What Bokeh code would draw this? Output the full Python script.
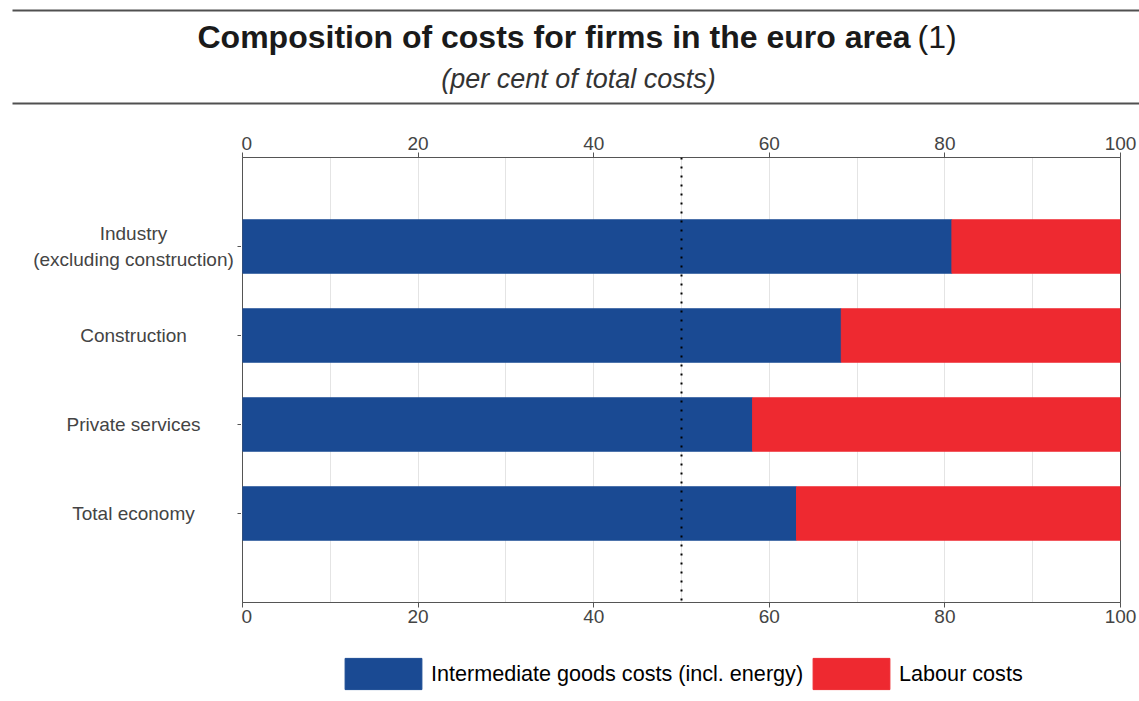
from bokeh.plotting import figure
from bokeh.layouts import column, row
from bokeh.models import (Range1d, FactorRange, LinearAxis, FixedTicker, SingleIntervalTicker,
                          Span, ColumnDataSource, Legend, LegendItem)
from bokeh.core.properties import value
from bokeh.embed import file_html
from bokeh.resources import INLINE

# ---- data ----
categories = ["Industry\n(excluding construction)", "Construction", "Private services", "Total economy"]
intermediate = [80.8, 68.2, 58.1, 63.1]
labour = [19.2, 31.8, 41.9, 36.9]
series_names = ["Intermediate goods costs (incl. energy)", "Labour costs"]
x_ticks = [0, 20, 40, 60, 80, 100]
reference_line = 50
title_text = "Composition of costs for firms in the euro area"
title_note = "(1)"
subtitle_text = "(per cent of total costs)"

FONT = "Liberation Sans"
BLUE = "#1A4A93"
RED = "#EE2930"
SERIES_COLORS = [BLUE, RED]
AXIS = "#555555"
TICKTXT = "#444444"

W = 1139
HEAD_H = 108        # header strip (title, subtitle, rules)
LABEL_W = 241       # strip holding the category labels and their ticks
TOP_B, FRAME_H, BOT_B = 49, 445, 40
LEFT_B, FRAME_W = 1, 878
RIGHT_B = W - LABEL_W - LEFT_B - FRAME_W
FOOT_H = 701 - HEAD_H - (TOP_B + FRAME_H + BOT_B)

source = ColumnDataSource(dict(cat=categories, inter=intermediate, labour=labour))
y_range = FactorRange(factors=categories[::-1], range_padding=0.5,
                      range_padding_units="absolute")


def bare(fig):
    fig.background_fill_color = "white"
    fig.border_fill_color = "white"
    fig.outline_line_color = None
    fig.xgrid.visible = False
    fig.ygrid.visible = False
    return fig


# ---- header: title, subtitle and the two rules ----
head = bare(figure(frame_width=W, frame_height=HEAD_H, x_range=Range1d(0, W),
                   y_range=Range1d(HEAD_H, 0), x_axis_location=None, y_axis_location=None,
                   min_border=0, output_backend="svg", toolbar_location=None))
head.segment(x0=[12, 12], y0=[10, 103], x1=[W, W], y1=[10, 103], line_color="#505050",
             line_width=2)
head.text(x=[197], y=[36], text=[title_text], text_font=value(FONT), text_font_size="32px",
          text_font_style="bold", text_color="#1a1a1a", text_align="left",
          text_baseline="alphabetic")
head.text(x=[917], y=[36], text=[title_note], text_font=value(FONT), text_font_size="32px",
          text_color="#1a1a1a", text_align="left", text_baseline="alphabetic")
head.text(x=[578], y=[78], text=[subtitle_text], text_font=value(FONT), text_font_size="27px",
          text_font_style="italic", text_color="#333333", text_align="center",
          text_baseline="alphabetic")

# ---- category label strip (shares the y range with the chart) ----
labels = bare(figure(frame_width=LABEL_W, frame_height=FRAME_H, x_range=Range1d(0, LABEL_W),
                     y_range=y_range, x_axis_location=None, y_axis_location=None,
                     min_border_left=0, min_border_right=0,
                     min_border_top=TOP_B, min_border_bottom=BOT_B,
                     output_backend="svg", toolbar_location=None))
labels.text(x=133, y="cat", text="cat", source=source, text_align="center",
            text_baseline="middle", text_font=value(FONT), text_font_size="19px",
            text_color=TICKTXT)
# category tick marks on the left edge of the chart
labels.segment(x0=LABEL_W - 4, x1=LABEL_W, y0="cat", y1="cat", source=source,
               line_color=AXIS, line_width=1)

# ---- main chart ----
p = figure(frame_width=FRAME_W, frame_height=FRAME_H,
           x_range=Range1d(0, 100), y_range=y_range,
           x_axis_location=None, y_axis_location=None,
           output_backend="svg", toolbar_location=None,
           min_border_left=LEFT_B, min_border_right=RIGHT_B,
           min_border_top=TOP_B, min_border_bottom=BOT_B)
p.background_fill_color = "white"
p.border_fill_color = "white"
p.outline_line_color = AXIS
p.outline_line_width = 1

renderers = p.hbar_stack(["inter", "labour"], y="cat", height=0.6,
                         color=SERIES_COLORS, source=source)

p.xgrid.ticker = SingleIntervalTicker(interval=10)
p.xgrid.grid_line_color = "#e4e4e4"
p.ygrid.visible = False

bottom_axis = LinearAxis()
top_axis = LinearAxis()
p.add_layout(bottom_axis, "below")
p.add_layout(top_axis, "above")
for ax in [bottom_axis, top_axis]:
    ax.ticker = FixedTicker(ticks=x_ticks)
    ax.axis_line_color = AXIS
    ax.major_tick_line_color = AXIS
    ax.major_tick_out = 5
    ax.major_tick_in = 0
    ax.minor_tick_line_color = None
    ax.major_label_text_font = FONT
    ax.major_label_text_font_size = "19px"
    ax.major_label_text_color = TICKTXT
    ax.major_label_standoff = 2
top_axis.major_label_standoff = 3

p.add_layout(Span(location=reference_line, dimension="height", line_color="black",
                  line_width=2, line_dash="2 7"))

# ---- footer strip holding the legend (keys come from hidden copies of the series) ----
foot = bare(figure(frame_width=W, frame_height=FOOT_H, x_range=Range1d(0, 100),
                   y_range=FactorRange(factors=categories[::-1]),
                   x_axis_location=None, y_axis_location=None,
                   min_border=0, output_backend="svg", toolbar_location=None))
key_renderers = foot.hbar_stack(["inter", "labour"], y="cat", height=0.6,
                                color=SERIES_COLORS, source=source, visible=False)
legend = Legend(items=[LegendItem(label=n, renderers=[r])
                       for n, r in zip(series_names, key_renderers)],
                orientation="horizontal", location=(335, FOOT_H - 51),
                glyph_width=96, glyph_height=39, label_standoff=0, spacing=0,
                padding=0, margin=0, border_line_color=None,
                background_fill_alpha=0, inactive_fill_alpha=0,
                label_text_font=FONT, label_text_font_size="21.6px",
                label_text_color="black")
foot.add_layout(legend)

layout = column(head, row(labels, p, spacing=0), foot, spacing=0)

open("out.html", "w").write(file_html(layout, INLINE))
